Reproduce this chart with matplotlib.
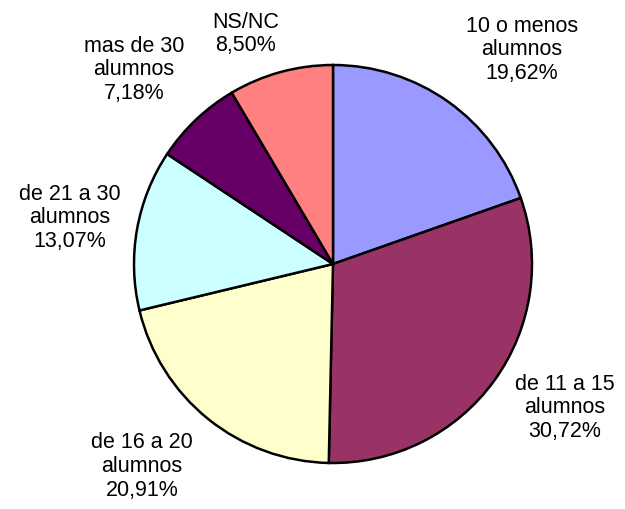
import matplotlib
matplotlib.use("Agg")
import matplotlib.pyplot as plt

categorias = ["10 o menos\nalumnos", "de 11 a 15\nalumnos", "de 16 a 20\nalumnos",
              "de 21 a 30\nalumnos", "mas de 30\nalumnos", "NS/NC"]
porcentajes = [19.62, 30.72, 20.91, 13.07, 7.18, 8.50]
colores = ["#9999FF", "#993366", "#FFFFCC", "#CCFFFF", "#660066", "#FF8080"]

# label centre x and top y, in pixels from the top-left corner
pos_etiquetas = [(522, 20), (565, 378), (142, 437), (70, 188), (134, 40), (246, 16)]

fig = plt.figure(figsize=(6.25, 5.09), dpi=100)
ax = fig.add_axes([0, 0, 1, 1])

ax.pie(porcentajes, colors=colores, startangle=90, counterclock=False,
       center=(333, 509 - 264), radius=199,
       wedgeprops=dict(edgecolor="black", linewidth=1.8))

ax.set_xlim(0, 625)
ax.set_ylim(0, 509)
ax.set_aspect("equal")
ax.axis("off")

for cat, val, (x, y) in zip(categorias, porcentajes, pos_etiquetas):
    txt = cat + "\n" + ("%.2f%%" % val).replace(".", ",")
    ax.text(x, 509 - y + 4.5, txt, ha="center", va="top", fontsize=15.5,
            family="Liberation Sans", linespacing=1.18)

fig.savefig("out.png", dpi=100)
